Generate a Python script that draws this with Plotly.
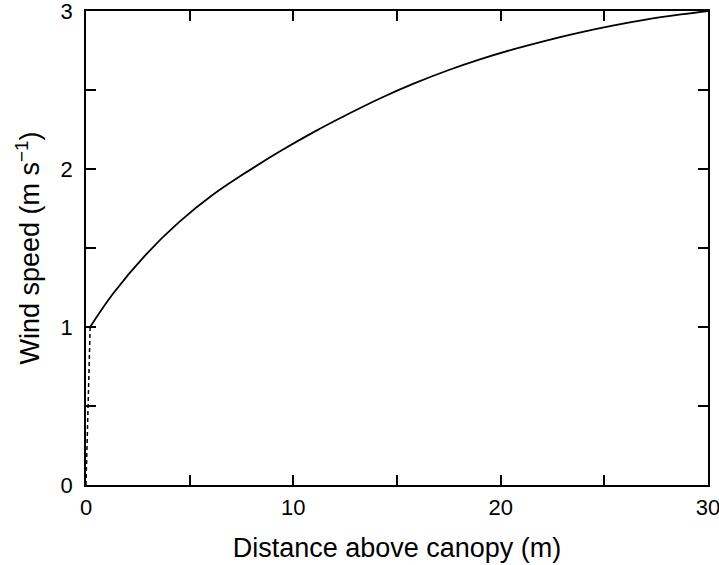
import plotly.graph_objects as go

# Wind speed profile above a canopy
height_m = [0.2, 1.3, 2.9, 4.5, 6.1, 7.8, 9.4, 11, 12.6, 14.2, 15.8, 17.4, 19, 20.6,
            22.2, 23.8, 25.4, 27, 28.7, 30]
wind_speed = [1.0, 1.21, 1.46, 1.665, 1.835, 1.985, 2.115, 2.235, 2.345, 2.448, 2.54,
              2.622, 2.694, 2.757, 2.813, 2.863, 2.907, 2.945, 2.978, 3.0]

# Segment down to the canopy surface
canopy_x = [0.0, 0.2]
canopy_y = [0.0, 1.0]

FONT = "Liberation Sans, Arial, Helvetica, sans-serif"

fig = go.Figure()
fig.add_trace(go.Scatter(x=canopy_x, y=canopy_y, mode="lines",
                         line=dict(color="black", width=1.5, dash="4px,3px"),
                         showlegend=False))
fig.add_trace(go.Scatter(x=height_m, y=wind_speed, mode="lines",
                         line=dict(color="black", width=1.8, shape="spline", smoothing=1),
                         showlegend=False))

axis_common = dict(
    showgrid=False, zeroline=False, showline=True, linecolor="black", linewidth=1.6,
    mirror="allticks", ticks="inside", ticklen=10, tickwidth=1.5, tickcolor="black",
    tickfont=dict(family=FONT, size=22, color="black"), ticklabeloverflow="allow",
)

fig.update_xaxes(range=[0, 30], dtick=10, tick0=0, ticklabelstandoff=2,
                 minor=dict(dtick=5, ticks="inside", ticklen=10, tickwidth=1.5, tickcolor="black"),
                 title=dict(text="Distance above canopy (m)",
                            font=dict(family=FONT, size=27, color="black"), standoff=19),
                 **axis_common)
fig.update_yaxes(range=[0, 3], dtick=1, tick0=0, ticklabelstandoff=7,
                 minor=dict(dtick=0.5, ticks="inside", ticklen=10, tickwidth=1.5, tickcolor="black"),
                 title=dict(text="Wind speed (m s<sup>−1</sup>)",
                            font=dict(family=FONT, size=27, color="black"), standoff=13),
                 **axis_common)

fig.update_layout(
    width=719, height=565,
    margin=dict(l=86, r=11, t=11, b=80, autoexpand=False),
    plot_bgcolor="white", paper_bgcolor="white",
)

fig.write_html("out.html")
